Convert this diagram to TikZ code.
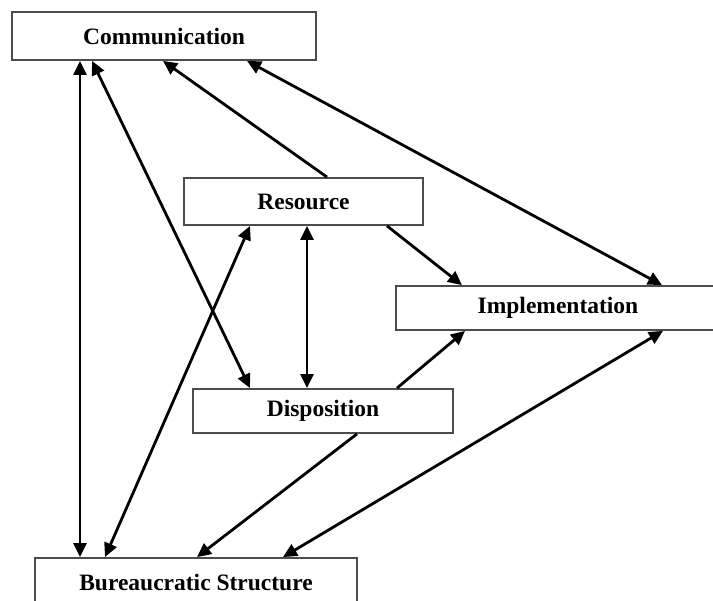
\documentclass[tikz,border=0pt]{standalone}
\usepackage{fontspec}
\setmainfont{Liberation Serif}
\usetikzlibrary{arrows.meta}
\begin{document}
\begin{tikzpicture}[x=1pt,y=-1pt,
  box/.style={draw=black!70,line width=1.8pt,fill=white,inner sep=0pt,
    font=\fontsize{23.5}{24}\selectfont\bfseries},
  link/.style={line width=2.8pt,-{Triangle[length=14pt,width=13pt]}},
  blink/.style={line width=2.8pt,{Triangle[length=14pt,width=13pt]}-{Triangle[length=14pt,width=13pt]}}]
\clip (0,0) rectangle (713,601);
\fill[white] (0,0) rectangle (713,601);
\node[box,minimum width=304pt,minimum height=48pt] (comm) at (164,36) {Communication};
\node[box,minimum width=239pt,minimum height=47pt] (res) at (303.5,201.5) {Resource};
\node[box,minimum width=324pt,minimum height=44pt] (impl) at (558,308) {Implementation};
\node[box,minimum width=260pt,minimum height=44pt] (disp) at (323,411) {Disposition};
\node[box,minimum width=322pt,minimum height=48pt] (bur) at (196,582) {Bureaucratic Structure};
% connectors
\draw[blink] ([xshift=-84pt]comm.south) -- ([xshift=-116pt]bur.north);
\draw[blink] ([xshift=-72pt]comm.south) -- ([xshift=-73pt]disp.north);
\draw[link] ([xshift=23.5pt]res.north) -- ([xshift=-1pt]comm.south);
\draw[blink] ([xshift=83pt]comm.south) -- ([xshift=104pt]impl.north);
\draw[link] ([xshift=83.5pt]res.south) -- ([xshift=-96pt]impl.north);
\draw[blink] ([xshift=3.5pt]res.south) -- ([xshift=-16pt]disp.north);
\draw[blink] ([xshift=-53.5pt]res.south) -- ([xshift=-91pt]bur.north);
\draw[link] ([xshift=74pt]disp.north) -- ([xshift=-93pt]impl.south);
\draw[link] ([xshift=34pt]disp.south) -- ([xshift=1pt]bur.north);
\draw[blink] ([xshift=105pt]impl.south) -- ([xshift=87pt]bur.north);
\end{tikzpicture}
\end{document}
